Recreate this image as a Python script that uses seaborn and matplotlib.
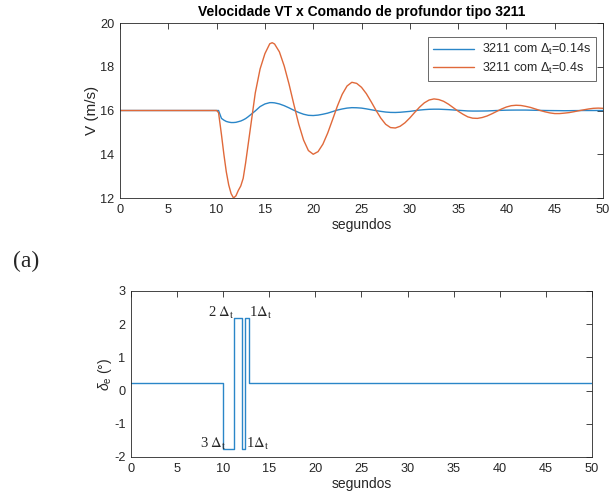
import numpy as np
import pandas as pd
import matplotlib
matplotlib.use("Agg")
import matplotlib.pyplot as plt
import seaborn as sns

# ---------------- data ----------------
t_v = [0.0, 10.0, 10.2, 10.5, 10.75, 11.0, 11.25, 11.5, 11.75, 12.0, 12.25, 12.5, 12.75,
       13.0, 13.25, 13.5, 13.75, 14.0, 14.5, 15.0, 15.5, 15.75, 16.0, 16.5, 17.0, 17.5,
       18.0, 18.5, 19.0, 19.5, 20.0, 20.5, 21.0, 21.5, 22.0, 22.5, 23.0, 23.5, 24.0,
       24.5, 25.0, 25.5, 26.0, 26.5, 27.0, 27.5, 28.0, 28.5, 29.0, 29.5, 30.0, 30.5,
       31.0, 31.5, 32.0, 32.5, 33.0, 33.5, 34.0, 34.5, 35.0, 35.5, 36.0, 36.5, 37.0,
       37.5, 38.0, 38.5, 39.0, 39.5, 40.0, 40.5, 41.0, 41.5, 42.0, 42.5, 43.0, 43.5,
       44.0, 44.5, 45.0, 45.5, 46.0, 46.5, 47.0, 47.5, 48.0, 48.5, 49.0, 49.5, 50.0]

v_014 = [16.0, 16.0, 16.0, 15.64, 15.56, 15.5, 15.47, 15.45, 15.45, 15.46, 15.49, 15.52, 15.57,
         15.63, 15.71, 15.80, 15.89, 15.98, 16.18, 16.30, 16.36, 16.36, 16.35, 16.30, 16.22, 16.12,
         16.01, 15.91, 15.83, 15.78, 15.77, 15.79, 15.83, 15.88, 15.95, 16.02, 16.07, 16.11, 16.13,
         16.125, 16.11, 16.075, 16.035, 15.995, 15.96, 15.93, 15.913, 15.91, 15.92, 15.94, 15.96, 15.99,
         16.02, 16.04, 16.055, 16.06, 16.06, 16.05, 16.04, 16.025, 16.01, 15.995, 15.98, 15.975, 15.975,
         15.977, 15.98, 15.99, 16.0, 16.008, 16.015, 16.018, 16.02, 16.02, 16.02, 16.015, 16.01, 16.005,
         16.0, 15.997, 15.995, 15.993, 15.99, 15.992, 15.995, 15.997, 16.0, 16.0, 16.0, 16.0, 16.0]

v_04 = [16.0, 16.0, 15.9, 14.9, 14.0, 13.2, 12.6, 12.2, 12.0, 12.1, 12.35, 12.55, 12.9,
        13.6, 14.4, 15.2, 16.0, 16.8, 17.9, 18.6, 19.05, 19.1, 19.04, 18.68, 18.03, 17.20,
        16.27, 15.38, 14.65, 14.17, 14.0, 14.12, 14.46, 14.97, 15.58, 16.20, 16.74, 17.12, 17.29,
        17.24, 17.06, 16.77, 16.40, 16.01, 15.65, 15.37, 15.22, 15.20, 15.28, 15.44, 15.66, 15.91,
        16.15, 16.35, 16.48, 16.53, 16.50, 16.42, 16.29, 16.13, 15.97, 15.83, 15.71, 15.65, 15.64,
        15.68, 15.75, 15.85, 15.96, 16.07, 16.16, 16.22, 16.24, 16.23, 16.19, 16.14, 16.07, 16.00,
        15.94, 15.89, 15.86, 15.86, 15.88, 15.905, 15.945, 15.99, 16.03, 16.07, 16.10, 16.11, 16.10]

t_de = [0.0, 10.0, 10.0, 11.2, 11.2, 12.0, 12.0, 12.4, 12.4, 12.8, 12.8, 50.0]
de = [0.22, 0.22, -1.75, -1.75, 2.2, 2.2, -1.75, -1.75, 2.2, 2.2, 0.22, 0.22]

series_names = [r"3211 com $\Delta_{\rm t}$=0.14s", r"3211 com $\Delta_{\rm t}$=0.4s"]
x_ticks = [0, 5, 10, 15, 20, 25, 30, 35, 40, 45, 50]
y_ticks_top = [12, 14, 16, 18, 20]
y_ticks_bot = [-2, -1, 0, 1, 2, 3]

# ---------------- style ----------------
sns.set_theme(style="white")
plt.rcParams["font.family"] = ["Liberation Sans", "DejaVu Sans"]
plt.rcParams["mathtext.fontset"] = "custom"
plt.rcParams["mathtext.rm"] = "Liberation Sans"
plt.rcParams["mathtext.it"] = "Liberation Sans:italic"
plt.rcParams["axes.unicode_minus"] = False

C_BLUE = "#2A86C8"
C_ORANGE = "#E0693A"
AX_C = "#262626"
TICK_C = "#262626"

fig = plt.figure(figsize=(6.13, 4.97), dpi=100)
ax1 = fig.add_axes([0.1958, 0.6016, 0.7879, 0.3521])
ax2 = fig.add_axes([0.2137, 0.0805, 0.7520, 0.3340])

df_top = pd.concat([
    pd.DataFrame({"t": t_v, "V": v_014, "serie": series_names[0]}),
    pd.DataFrame({"t": t_v, "V": v_04, "serie": series_names[1]}),
])
sns.lineplot(data=df_top, x="t", y="V", hue="serie", palette=[C_BLUE, C_ORANGE],
             linewidth=1.0, ax=ax1, estimator=None, sort=False)

df_bot = pd.DataFrame({"t": t_de, "de": de})
sns.lineplot(data=df_bot, x="t", y="de", color=C_BLUE, linewidth=1.0, ax=ax2,
             estimator=None, sort=False)

for ax, yt, ylim in [(ax1, y_ticks_top, (12, 20)), (ax2, y_ticks_bot, (-2, 3))]:
    ax.set_xlim(0, 50)
    ax.set_ylim(*ylim)
    ax.set_xticks(x_ticks)
    ax.set_yticks(yt)
    ax.tick_params(direction="in", length=4, width=0.6, colors=TICK_C, labelsize=9.2,
                   top=True, right=True, pad=4)
    for s in ax.spines.values():
        s.set_visible(True)
        s.set_color(AX_C)
        s.set_linewidth(0.6)
    ax.set_xlabel("segundos", fontsize=10, color=TICK_C, labelpad=2)

ax1.set_ylabel("V (m/s)", fontsize=11, color=TICK_C, labelpad=1)
ax2.set_ylabel(r"$\delta_{\rm e}$ (°)", fontsize=10, color=TICK_C, labelpad=0)
ax1.set_title("Velocidade VT x Comando de profundor tipo 3211", fontsize=10,
              fontweight="bold", color="black", pad=5)

leg = ax1.legend(loc="upper right", bbox_to_anchor=(0.985, 0.92), frameon=True,
                 fancybox=False, edgecolor=AX_C, fontsize=9, handlelength=3.3,
                 borderpad=0.4, labelspacing=0.3, handletextpad=0.6, borderaxespad=0.0)
leg.get_frame().set_linewidth(0.6)
for txt in leg.get_texts():
    txt.set_color(TICK_C)

serif = ["Liberation Serif", "DejaVu Serif"]
fs_ann = 10.5
ax2.text(10.35, -1.6, r"3 $\Delta_{\rm t}$", ha="right", va="center", fontsize=fs_ann,
         family=serif, math_fontfamily="stix")
ax2.text(11.3, 2.33, r"2 $\Delta_{\rm t}$", ha="right", va="center", fontsize=fs_ann,
         family=serif, math_fontfamily="stix")
ax2.text(12.85, 2.33, r"1$\Delta_{\rm t}$", ha="left", va="center", fontsize=fs_ann,
         family=serif, math_fontfamily="stix")
ax2.text(12.45, -1.6, r"1$\Delta_{\rm t}$", ha="left", va="center", fontsize=fs_ann,
         family=serif, math_fontfamily="stix")

fig.text(0.022, 0.473, "(a)", fontsize=17, family=serif, ha="left", va="center")

fig.savefig("out.png", dpi=100)
